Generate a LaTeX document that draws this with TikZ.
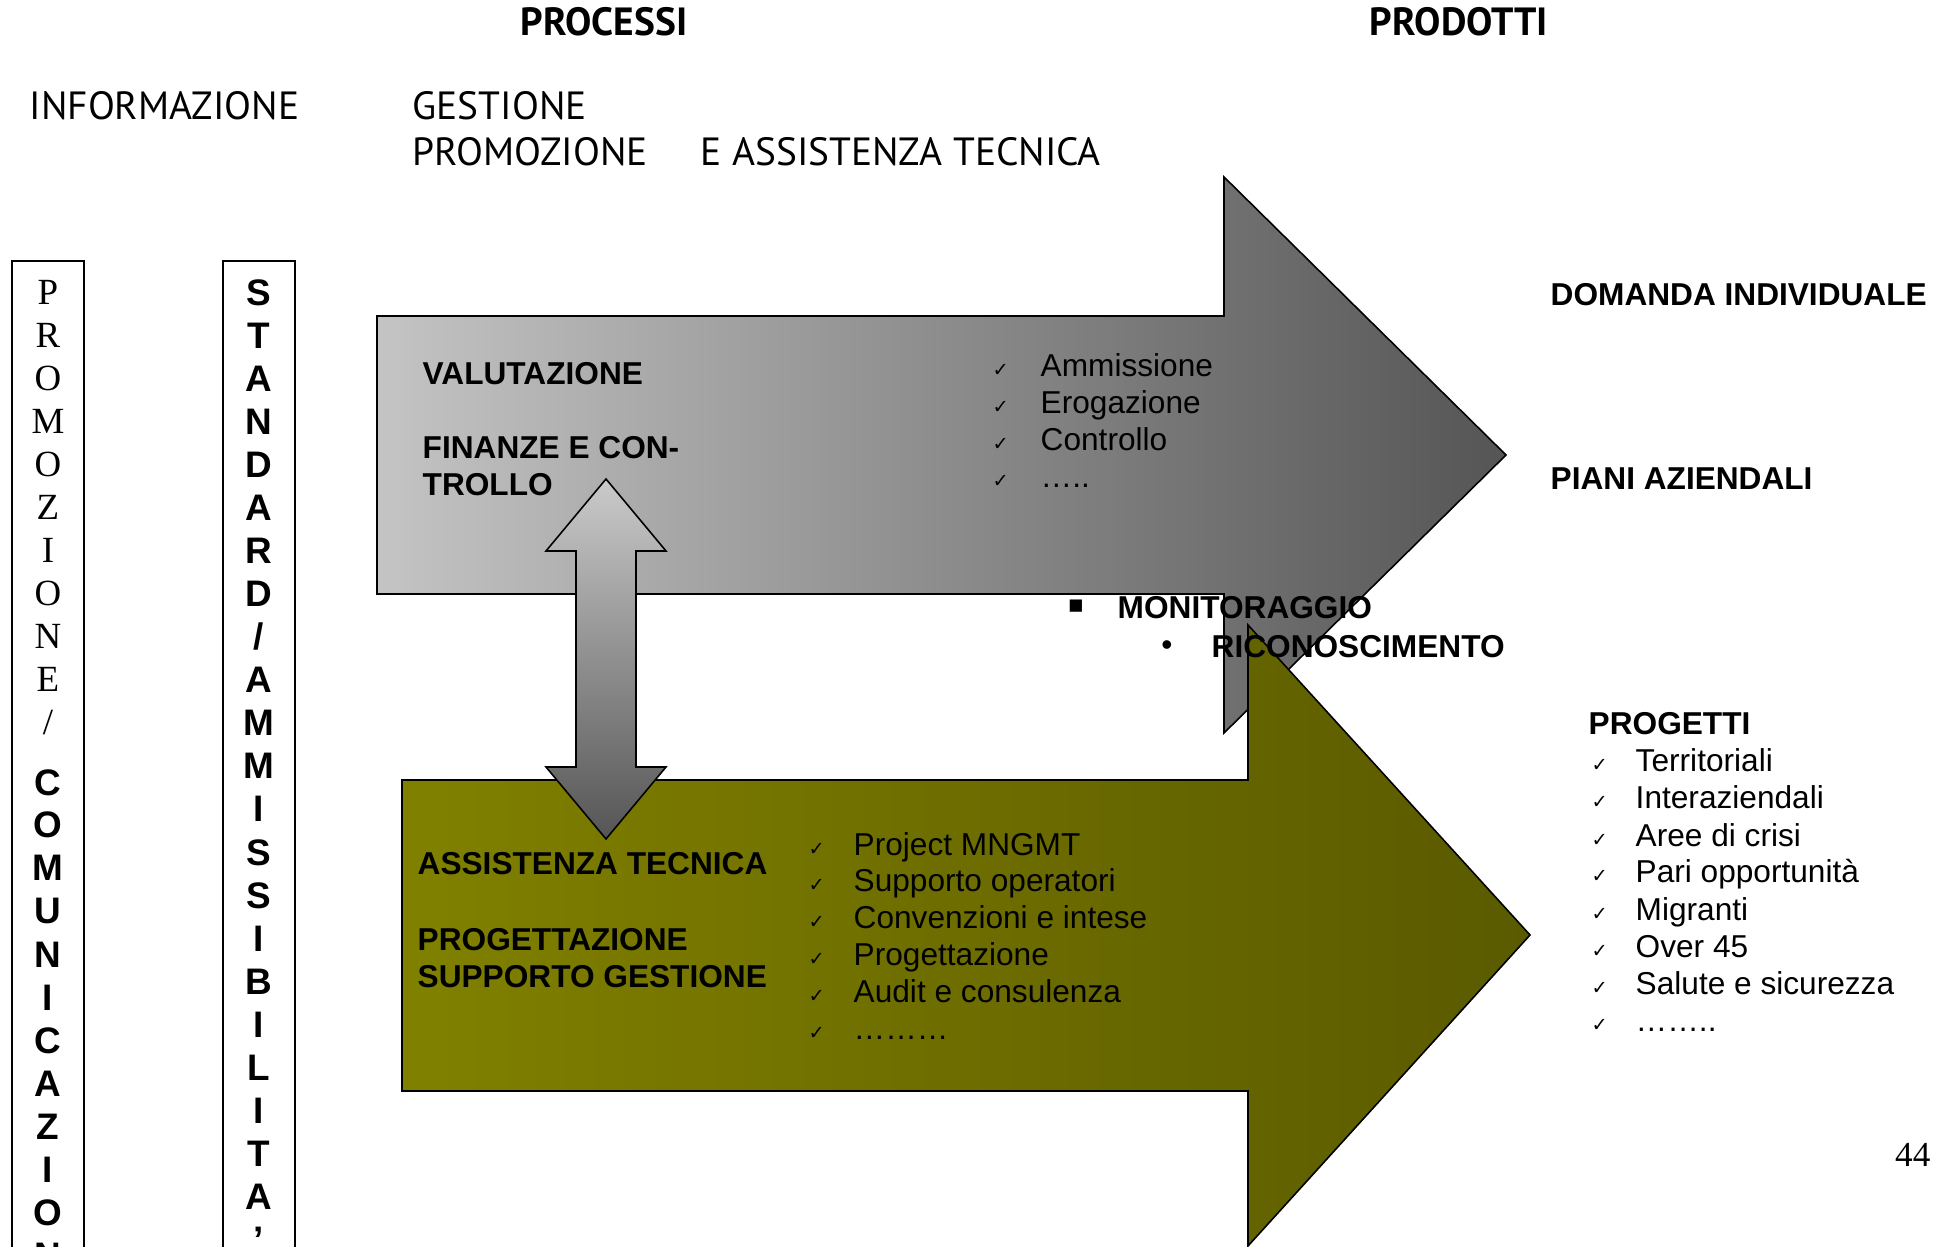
\documentclass[tikz,border=0pt]{standalone}
\usepackage{fontspec}
\setmainfont{Liberation Sans}
\newfontfamily\timesfont{Liberation Serif}
\newfontfamily\comicfont{PT Sans}
\newfontfamily\symbfont{DejaVu Sans}
\definecolor{greylight}{HTML}{C4C4C4}
\definecolor{greymid}{HTML}{8E8E8E}
\definecolor{greydark}{HTML}{555555}
\definecolor{olivelight}{HTML}{808000}
\definecolor{olivemid}{HTML}{707000}
\definecolor{olivedark}{HTML}{5A5A00}
\tikzset{
  comic/.style={font=\comicfont\fontsize{11.2}{13}\selectfont, inner sep=0pt, anchor=base west},
  heading/.style={font=\comicfont\bfseries\fontsize{11.2}{13}\selectfont, inner sep=0pt, anchor=base},
  label/.style={font=\bfseries\fontsize{9}{11}\selectfont, inner sep=0pt, anchor=base west},
  item/.style={font=\fontsize{9}{11}\selectfont, inner sep=0pt, anchor=base west},
  tick/.style={font=\symbfont\fontsize{5.5}{7}\selectfont, inner sep=0pt, anchor=base west},
  serifletter/.style={font=\timesfont\fontsize{10.5}{12}\selectfont, inner sep=0pt, anchor=base},
  boldletter/.style={font=\bfseries\fontsize{10.5}{12}\selectfont, inner sep=0pt, anchor=base},
  outline/.style={draw=black, line width=0.45pt, line join=miter}
}
\begin{document}
\begin{tikzpicture}[x=0.1mm, y=-0.1mm]
\useasboundingbox (0,0) rectangle (1950,1247);
\clip (0,0) rectangle (1950,1247);
\draw[outline, left color=greylight, middle color=greymid, right color=greydark] (377,316) -- (1224,316) -- (1224,177) -- (1506,455) -- (1224,733) -- (1224,594) -- (377,594) -- cycle;
\draw[outline, left color=olivelight, middle color=olivemid, right color=olivedark] (402,780) -- (1248,780) -- (1248,625) -- (1530,935) -- (1248,1246) -- (1248,1091) -- (402,1091) -- cycle;
\draw[outline, top color=greylight!90!white, bottom color=greydark] (606,479) -- (666,551) -- (636,551) -- (636,767) -- (666,767) -- (606,839) -- (546,767) -- (576,767) -- (576,551) -- (546,551) -- cycle;
\draw[outline] (12,1260) -- (12,261) -- (84,261) -- (84,1260);
\draw[outline] (223,1260) -- (223,261) -- (295,261) -- (295,1260);
\foreach \ch [count=\k from 0] in {P,R,O,M,O,Z,I,O,N,E,/}
  \node[serifletter] (pro\k) at (48,305+43*\k) {\ch};
\foreach \ch [count=\k from 0] in {C,O,M,U,N,I,C,A,Z,I,O,N,E}
  \node[boldletter] (com\k) at (48,795+43*\k) {\ch};
\foreach \ch [count=\k from 0] in {S,T,A,N,D,A,R,D,/,A,M,M,I,S,S,I,B,I,L,I,T,A,’}
  \node[boldletter] (std\k) at (259,306+43*\k) {\ch};
\node[heading] (processi) at (604,36) {PROCESSI};
\node[heading] (prodotti) at (1459,36) {PRODOTTI};
\node[comic] (informazione) at (29,120) {INFORMAZIONE};
\node[comic] (gestione) at (412,120) {GESTIONE};
\node[comic] (promozione) at (412,166) {PROMOZIONE};
\node[comic] (assistenza) at (700,166) {E ASSISTENZA TECNICA};
\node[label] (valutazione) at (422,385) {VALUTAZIONE};
\node[label] (finanze) at (422,459) {FINANZE E CON-};
\node[label] (trollo) at (422,496) {TROLLO};
\foreach \txt [count=\k from 0] in {Ammissione,Erogazione,Controllo,…..}{
  \node[tick] (vchk\k) at (992,377+37*\k) {✓};
  \node[item] (vitem\k) at (1040,377+37*\k) {\txt};
}
\node[font=\symbfont\fontsize{7}{9}\selectfont, inner sep=0pt] (sqbullet) at (1076,606) {▪};
\node[label] (monitoraggio) at (1117,619) {MONITORAGGIO};
\node[font=\fontsize{9}{11}\selectfont, inner sep=0pt] (dotbullet) at (1167,648) {•};
\node[label] (riconoscimento) at (1211,658) {RICONOSCIMENTO};
\node[label] (assist) at (417,875) {ASSISTENZA TECNICA};
\node[label] (progettazione) at (417,950) {PROGETTAZIONE};
\node[label] (supporto) at (417,987) {SUPPORTO GESTIONE};
\foreach \txt [count=\k from 0] in {Project MNGMT,Supporto operatori,Convenzioni e intese,Progettazione,Audit e consulenza,………}{
  \node[tick] (ochk\k) at (808,855+36.8*\k) {✓};
  \node[item] (oitem\k) at (853,855+36.8*\k) {\txt};
}
\node[label] (domanda) at (1550,306) {DOMANDA INDIVIDUALE};
\node[label] (piani) at (1550,490) {PIANI AZIENDALI};
\node[label] (progetti) at (1588,735) {PROGETTI};
\foreach \txt [count=\k from 0] in {Territoriali,Interaziendali,Aree di crisi,Pari opportunità,Migranti,Over 45,Salute e sicurezza,……..}{
  \node[tick] (pchk\k) at (1591,772+37*\k) {✓};
  \node[item] (pitem\k) at (1635,772+37*\k) {\txt};
}
\node[font=\timesfont\fontsize{10}{12}\selectfont, inner sep=0pt, anchor=base east] (pagenum) at (1931,1166) {44};
\end{tikzpicture}
\end{document}
